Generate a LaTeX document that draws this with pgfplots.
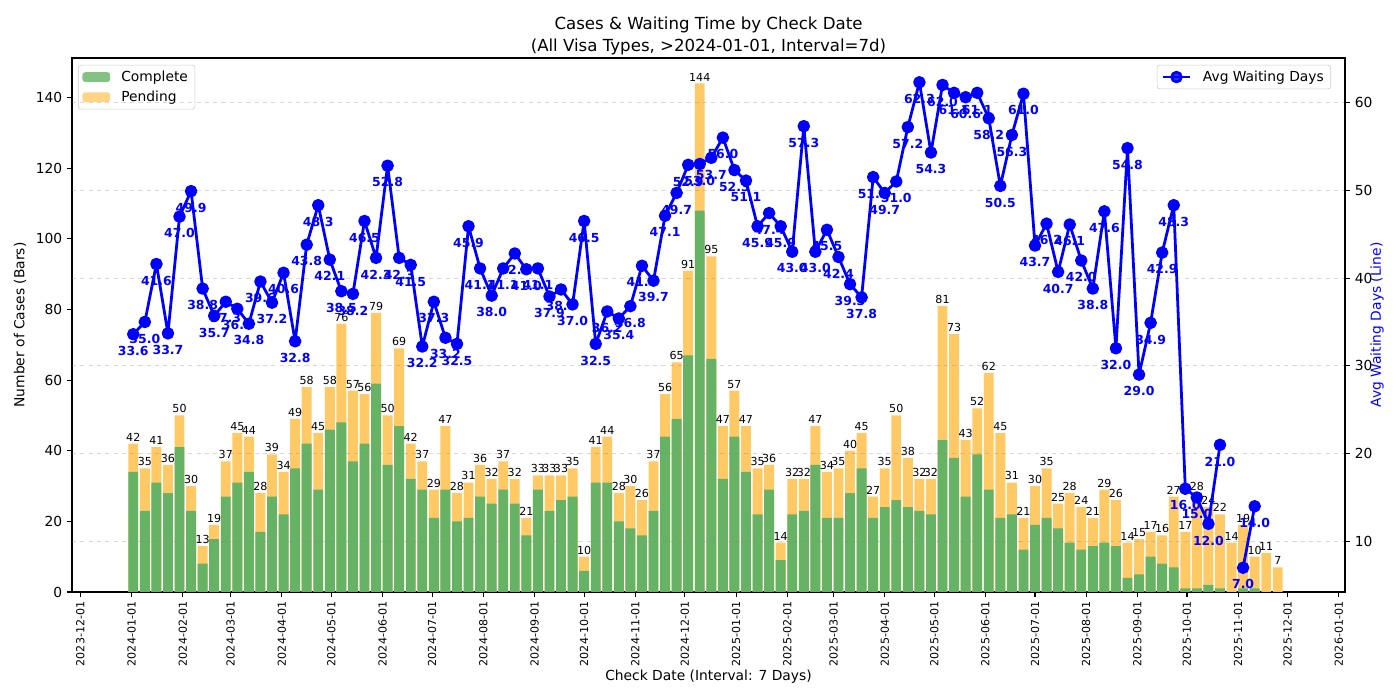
\documentclass[border=0pt]{standalone}
\usepackage{fontspec}
\setmainfont{DejaVu Sans}
\usepackage{pgfplots}
\usepackage{pgfplotstable}
\pgfplotsset{compat=1.18}
\definecolor{cgreen}{RGB}{102,179,102}
\definecolor{corange}{RGB}{255,201,102}
\definecolor{cblue}{RGB}{0,0,255}

% d = days since 2024-01-01, comp = complete, total = complete + pending, wait = avg waiting days
\pgfplotstableread{
d comp total wait
1 34 42 33.6
8 23 35 35.0
15 31 41 41.6
22 28 36 33.7
29 41 50 47.0
36 23 30 49.9
43 8 13 38.8
50 15 19 35.7
57 27 37 37.3
64 31 45 36.5
71 34 44 34.8
78 17 28 39.6
85 27 39 37.2
92 22 34 40.6
99 35 49 32.8
106 42 58 43.8
113 29 45 48.3
120 46 58 42.1
127 48 76 38.5
134 37 57 38.2
141 42 56 46.5
148 59 79 42.3
155 36 50 52.8
162 47 69 42.3
169 32 42 41.5
176 29 37 32.2
183 21 29 37.3
190 29 47 33.2
197 20 28 32.5
204 21 31 45.9
211 27 36 41.1
218 25 32 38.0
225 29 37 41.1
232 25 32 42.8
239 16 21 41.0
246 29 33 41.1
253 23 33 37.9
260 26 33 38.7
267 27 35 37.0
274 6 10 46.5
281 31 41 32.5
288 31 44 36.2
295 20 28 35.4
302 18 30 36.8
309 16 26 41.4
316 23 37 39.7
323 44 56 47.1
330 49 65 49.7
337 67 91 52.9
344 108 144 53.0
351 66 95 53.7
358 32 47 56.0
365 44 57 52.3
372 34 47 51.1
379 22 35 45.9
386 29 36 47.4
393 9 14 45.9
400 22 32 43.0
407 23 32 57.3
414 36 47 43.0
421 21 34 45.5
428 21 35 42.4
435 28 40 39.3
442 35 45 37.8
449 21 27 51.5
456 24 35 49.7
463 26 50 51.0
470 24 38 57.2
477 23 32 62.3
484 22 32 54.3
491 43 81 62.0
498 38 73 61.1
505 27 43 60.6
512 39 52 61.1
519 29 62 58.2
526 21 45 50.5
533 22 31 56.3
540 12 21 61.0
547 19 30 43.7
554 21 35 46.2
561 18 25 40.7
568 14 28 46.1
575 12 24 42.0
582 13 21 38.8
589 14 29 47.6
596 13 26 32.0
603 4 14 54.8
610 5 15 29.0
617 10 17 34.9
624 8 16 42.9
631 7 27 48.3
638 1 17 16.0
645 1 28 15.0
652 2 24 12.0
659 1 22 21.0
666 0 14 nan
673 1 19 7.0
680 1 10 14.0
687 0 11 nan
694 0 7 nan
}\weeks

\pgfplotsset{
  mpl/.style={
    at={(0.72in,1.08in)}, anchor=south west,
    scale only axis, width=12.73in, height=5.34in,
    xmin=-36.1, xmax=734.7,
    /pgf/number format/assume math mode=true,
    tick align=outside, major tick length=3.5bp,
    tick style={black, line width=0.8bp},
    axis line style={line width=0.8bp},
    tick label style={font=\fontsize{10}{12}\selectfont},
    label style={font=\fontsize{10}{12}\selectfont},
    legend cell align=left,
    legend style={font=\fontsize{10}{12}\selectfont, draw=black!20, fill=white,
      fill opacity=0.8, text opacity=1, rounded corners=2bp,
      inner xsep=3bp, inner ysep=2bp, row sep=1.5bp},
  }
}

\begin{document}
\begin{tikzpicture}
\useasboundingbox (0,0) rectangle (14in,7in);
\begin{axis}[
  mpl,
  ymin=0, ymax=151.2,
  ytick={0,20,...,140},
  xtick pos=bottom, ytick pos=left,
  xtick={-31,0,31,60,91,121,152,182,213,244,274,305,335,366,397,425,456,486,517,547,578,609,639,670,700,731},
  xticklabels={2023-12-01,2024-01-01,2024-02-01,2024-03-01,2024-04-01,2024-05-01,2024-06-01,2024-07-01,2024-08-01,2024-09-01,2024-10-01,2024-11-01,2024-12-01,2025-01-01,2025-02-01,2025-03-01,2025-04-01,2025-05-01,2025-06-01,2025-07-01,2025-08-01,2025-09-01,2025-10-01,2025-11-01,2025-12-01,2026-01-01},
  xticklabel style={rotate=90, anchor=east, font=\fontsize{8}{10}\selectfont},
  xlabel={Check Date (Interval: 7 Days)},
  xlabel style={at={(axis description cs:0.5,-0.159)}, anchor=center},
  ylabel={Number of Cases (Bars)},
  ylabel style={at={(axis description cs:-0.0408,0.5)}, anchor=center},
  title={Cases \& Waiting Time by Check Date\\(All Visa Types, >2024-01-01, Interval=7d)},
  title style={at={(axis description cs:0.5,1.025)}, anchor=center, align=center,
    font=\fontsize{12}{15.8}\selectfont},
  legend style={at={(axis description cs:0.0047,0.987)}, anchor=north west},
  reverse legend,
]
\addplot[ybar, bar width=6, bar shift=0pt, fill=corange, draw=none,
  nodes near coords,
  nodes near coords style={font=\fontsize{8}{9}\selectfont, black, anchor=south, inner sep=1.5bp},
  legend image code/.code={\fill[corange] (0bp,-3.5bp) rectangle (20bp,3.5bp); \path (26bp,0bp);}]
  table[x=d, y=total] {\weeks};
\addlegendentry{Pending}
\addplot[ybar, bar width=6, bar shift=0pt, fill=cgreen, draw=none,
  legend image code/.code={\fill[cgreen] (0bp,-3.5bp) rectangle (20bp,3.5bp); \path (26bp,0bp);}]
  table[x=d, y=comp] {\weeks};
\addlegendentry{Complete}
\end{axis}

\begin{axis}[
  mpl,
  ymin=4.235, ymax=65.07,
  axis x line=none, axis y line*=right,
  ytick={10,20,...,60},
  ymajorgrids,
  grid style={dashed, gray, opacity=0.3, line width=0.8bp},
  ylabel={Avg Waiting Days (Line)},
  ylabel style={at={(axis description cs:1.0251,0.5)}, anchor=center, text=cblue},
  legend style={at={(axis description cs:0.989,0.987)}, anchor=north east},
]
\addplot[cblue, line width=2bp, line join=round, mark=*, mark size=3.5bp, unbounded coords=jump,
  nodes near coords,
  nodes near coords style={font=\fontsize{9}{10}\selectfont\bfseries, text=cblue,
    anchor=center, yshift=-12bp,
    /pgf/number format/.cd, fixed, fixed zerofill, precision=1},
  legend image code/.code={\draw[cblue, line width=2bp] (0bp,0bp) -- (20bp,0bp);
    \fill[cblue] (10bp,0bp) circle (3.5bp); \path (26bp,0bp);}]
  table[x=d, y=wait] {\weeks};
\addlegendentry{Avg Waiting Days}
\end{axis}
\end{tikzpicture}
\end{document}
